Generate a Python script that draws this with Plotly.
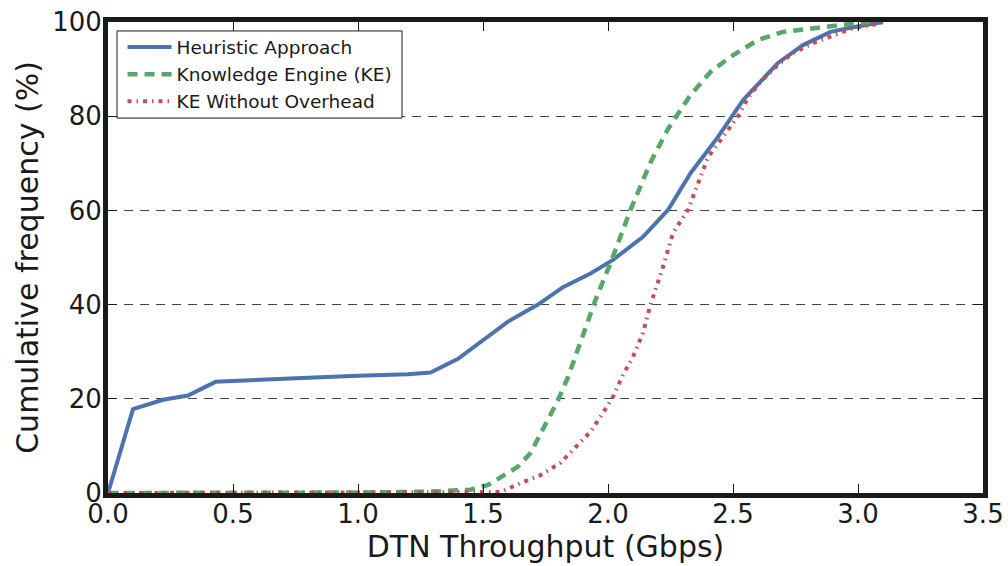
import plotly.graph_objects as go

# Heuristic Approach
heur_x = [0, 0.1, 0.22, 0.32, 0.43, 0.65, 0.85, 1.0, 1.2, 1.29, 1.4, 1.6, 1.72, 1.82, 1.93,
          2.02, 2.14, 2.24, 2.33, 2.44, 2.54, 2.57, 2.68, 2.78, 2.89, 2.98, 3.1]
heur_y = [0, 17.8, 19.8, 20.7, 23.6, 24.2, 24.6, 24.9, 25.2, 25.6, 28.5, 36.4, 40, 43.7, 46.6,
          49.5, 54.4, 60.1, 67.9, 75.6, 83.4, 85.1, 91.3, 95.1, 97.9, 98.9, 100]

# Knowledge Engine (KE)
ke_x = [0, 0.5, 1.0, 1.3, 1.45, 1.52, 1.57, 1.64, 1.69, 1.76, 1.80, 1.84, 1.88, 1.92, 1.95,
        2.01, 2.09, 2.17, 2.24, 2.33, 2.41, 2.49, 2.6, 2.7, 2.84, 2.97, 3.06]
ke_y = [0, 0, 0.1, 0.3, 0.7, 1.7, 3.4, 5.6, 8.5, 15.5, 19.7, 24.6, 30.4, 36.7, 41,
        48.8, 60.1, 70.2, 77.3, 84.5, 89.4, 92.6, 96.2, 97.9, 98.9, 99.6, 100]

# KE Without Overhead
keno_x = [0, 1.0, 1.5, 1.57, 1.65, 1.73, 1.81, 1.87, 1.93, 1.98, 2.02, 2.06, 2.1, 2.14, 2.17,
          2.22, 2.26, 2.32, 2.36, 2.4, 2.46, 2.52, 2.56, 2.61, 2.68, 2.74, 2.82, 2.9, 2.98, 3.08, 3.1]
keno_y = [0, 0, 0.1, 0.2, 2.1, 3.8, 6.4, 9.6, 13, 17, 20.4, 25.1, 28.9, 34, 40,
          48, 55.2, 60.1, 65.8, 71.3, 75.6, 80, 83.9, 87.3, 90.9, 93.4, 95.5, 97.2, 98.7, 99.6, 100]

x_ticks = [0.0, 0.5, 1.0, 1.5, 2.0, 2.5, 3.0, 3.5]
x_tick_labels = ["0.0", "0.5", "1.0", "1.5", "2.0", "2.5", "3.0", "3.5"]
y_ticks = [0, 20, 40, 60, 80, 100]

FONT = "DejaVu Sans"
INK = "#1a1a1a"

fig = go.Figure()
fig.add_trace(go.Scatter(x=heur_x, y=heur_y, mode="lines", name="Heuristic Approach",
                         line=dict(color="#4C72B0", width=4)))
fig.add_trace(go.Scatter(x=ke_x, y=ke_y, mode="lines", name="Knowledge Engine (KE)",
                         line=dict(color="#55A868", width=4.5, dash="10px,7px")))
fig.add_trace(go.Scatter(x=keno_x, y=keno_y, mode="lines", name="KE Without Overhead",
                         line=dict(color="#C44E52", width=4, dash="4px,5px,1.5px,5px")))

# legend frame (white box with thin dark border), in plot-area fractions
fig.add_shape(type="rect", xref="paper", yref="paper",
              x0=0.0103, x1=0.336, y0=0.796, y1=0.981,
              fillcolor="white", line=dict(color=INK, width=1), layer="above")

fig.update_layout(
    width=1008, height=566,
    margin=dict(l=108, r=25, t=22, b=73),
    paper_bgcolor="white", plot_bgcolor="white",
    font=dict(family=FONT, color=INK),
    showlegend=True,
    legend=dict(x=0.0166, y=0.986, xanchor="left", yanchor="top",
                bgcolor="rgba(0,0,0,0)", borderwidth=0,
                font=dict(size=18.5, family=FONT, color=INK),
                tracegroupgap=0, itemwidth=44),
)
fig.update_xaxes(
    range=[0, 3.5], tickvals=x_ticks, ticktext=x_tick_labels,
    showgrid=False, zeroline=False, automargin=False,
    showline=True, linewidth=5, linecolor=INK, mirror="ticks",
    ticks="inside", ticklen=9, tickwidth=1, tickcolor=INK,
    ticklabelstandoff=-6,
    tickfont=dict(size=26, family=FONT, color=INK),
    title=dict(text="DTN Throughput (Gbps)", font=dict(size=30, family=FONT, color=INK), standoff=2),
)
fig.update_yaxes(
    range=[0, 100], tickvals=y_ticks,
    showgrid=True, gridcolor="#444444", gridwidth=1, griddash="9px,7px",
    zeroline=False, automargin=False,
    showline=True, linewidth=5, linecolor=INK, mirror="ticks",
    ticks="inside", ticklen=9, tickwidth=1, tickcolor=INK,
    ticklabelstandoff=-4,
    tickfont=dict(size=26, family=FONT, color=INK),
    title=dict(text="Cumulative frequency (%)", font=dict(size=30, family=FONT, color=INK), standoff=6),
)

# remove the browser's default 8px page margin so the figure fills the window exactly
fig.write_html("out.html", config={"displayModeBar": False},
               post_script="document.body.style.margin='0';")
